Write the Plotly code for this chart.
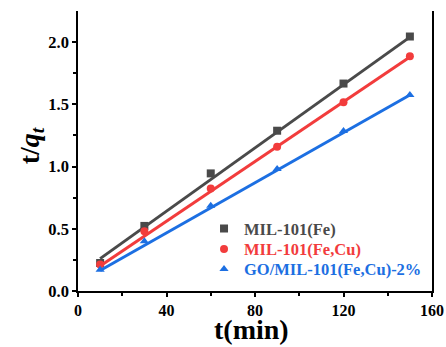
import plotly.graph_objects as go

t_min = [10, 30, 60, 90, 120, 150]
mil_fe = [0.225, 0.523, 0.945, 1.288, 1.667, 2.045]
mil_fecu = [0.212, 0.48, 0.824, 1.16, 1.517, 1.887]
go_mil = [0.17, 0.40, 0.685, 0.98, 1.286, 1.575]

fit_x = [10, 150]
fit_fe = [0.26, 2.04]
fit_fecu = [0.20, 1.88]
fit_go = [0.165, 1.575]

names = ["MIL-101(Fe)", "MIL-101(Fe,Cu)", "GO/MIL-101(Fe,Cu)-2%"]
colors = ["#4a4a4a", "#f23c3c", "#1c6fe2"]
symbols = ["square", "circle", "triangle-up"]
legend_ids = ["legend", "legend2", "legend3"]
legend_rows_y = [0.222, 0.149, 0.078]

FONT = "Liberation Serif"
fig = go.Figure()
for ys, fy, nm, c, s, lg in zip([mil_fe, mil_fecu, go_mil], [fit_fe, fit_fecu, fit_go],
                                names, colors, symbols, legend_ids):
    fig.add_trace(go.Scatter(x=fit_x, y=fy, mode="lines", line=dict(color=c, width=3),
                             showlegend=False, hoverinfo="skip"))
    fig.add_trace(go.Scatter(x=t_min, y=ys, mode="markers", name="<b>" + nm + "</b>",
                             legend=lg, marker=dict(symbol=s, size=8, color=c)))

legend_common = dict(x=0.356, xanchor="left", yanchor="middle", bgcolor="rgba(0,0,0,0)",
                     itemwidth=30, borderwidth=0)
layout_legends = {}
for lg, yy, c in zip(legend_ids, legend_rows_y, colors):
    layout_legends[lg] = dict(legend_common, y=yy, font=dict(family=FONT, size=16.5, color=c))

fig.update_layout(
    width=446, height=347,
    margin=dict(l=78, r=14, t=11, b=56),
    paper_bgcolor="white", plot_bgcolor="white",
    font=dict(family=FONT, size=15, color="black"),
    showlegend=True,
    **layout_legends,
)
fig.update_xaxes(range=[0, 160], tickvals=[0, 40, 80, 120, 160],
                 ticktext=["<b>0</b>", "<b>40</b>", "<b>80</b>", "<b>120</b>", "<b>160</b>"],
                 showline=True, linecolor="black", linewidth=1.5, mirror=False,
                 ticks="outside", ticklen=4, tickwidth=1.5, tickcolor="black",
                 minor=dict(tickvals=[20, 60, 100, 140], ticks="outside", ticklen=3, tickwidth=1.5, tickcolor="black"),
                 showgrid=False, zeroline=False, automargin=False,
                 tickfont=dict(family=FONT, size=16))
fig.update_yaxes(range=[0, 2.25], tickvals=[0, 0.5, 1.0, 1.5, 2.0],
                 ticktext=["<b>0.0</b>", "<b>0.5</b>", "<b>1.0</b>", "<b>1.5</b>", "<b>2.0</b>"],
                 showline=True, linecolor="black", linewidth=1.5, mirror=True,
                 ticks="outside", ticklen=4, tickwidth=1.5, tickcolor="black",
                 minor=dict(tickvals=[0.25, 0.75, 1.25, 1.75], ticks="outside", ticklen=3, tickwidth=1.5, tickcolor="black"),
                 showgrid=False, zeroline=False, automargin=False,
                 tickfont=dict(family=FONT, size=16.5))

fig.add_annotation(text="<b>t(min)</b>", xref="paper", yref="paper", x=0.49, y=-0.136,
                   xanchor="center", yanchor="middle", showarrow=False,
                   font=dict(family=FONT, size=28, color="black"))
fig.add_annotation(text="<b>t/<i>q</i><sub><i>t</i></sub></b>", xref="paper", yref="paper",
                   x=-0.133, y=0.52, xanchor="center", yanchor="middle", showarrow=False,
                   textangle=-90, font=dict(family=FONT, size=28, color="black"))

fig.write_html("out.html", config={"displayModeBar": False},
               post_script="document.body.style.margin='0';document.body.style.padding='0';")
